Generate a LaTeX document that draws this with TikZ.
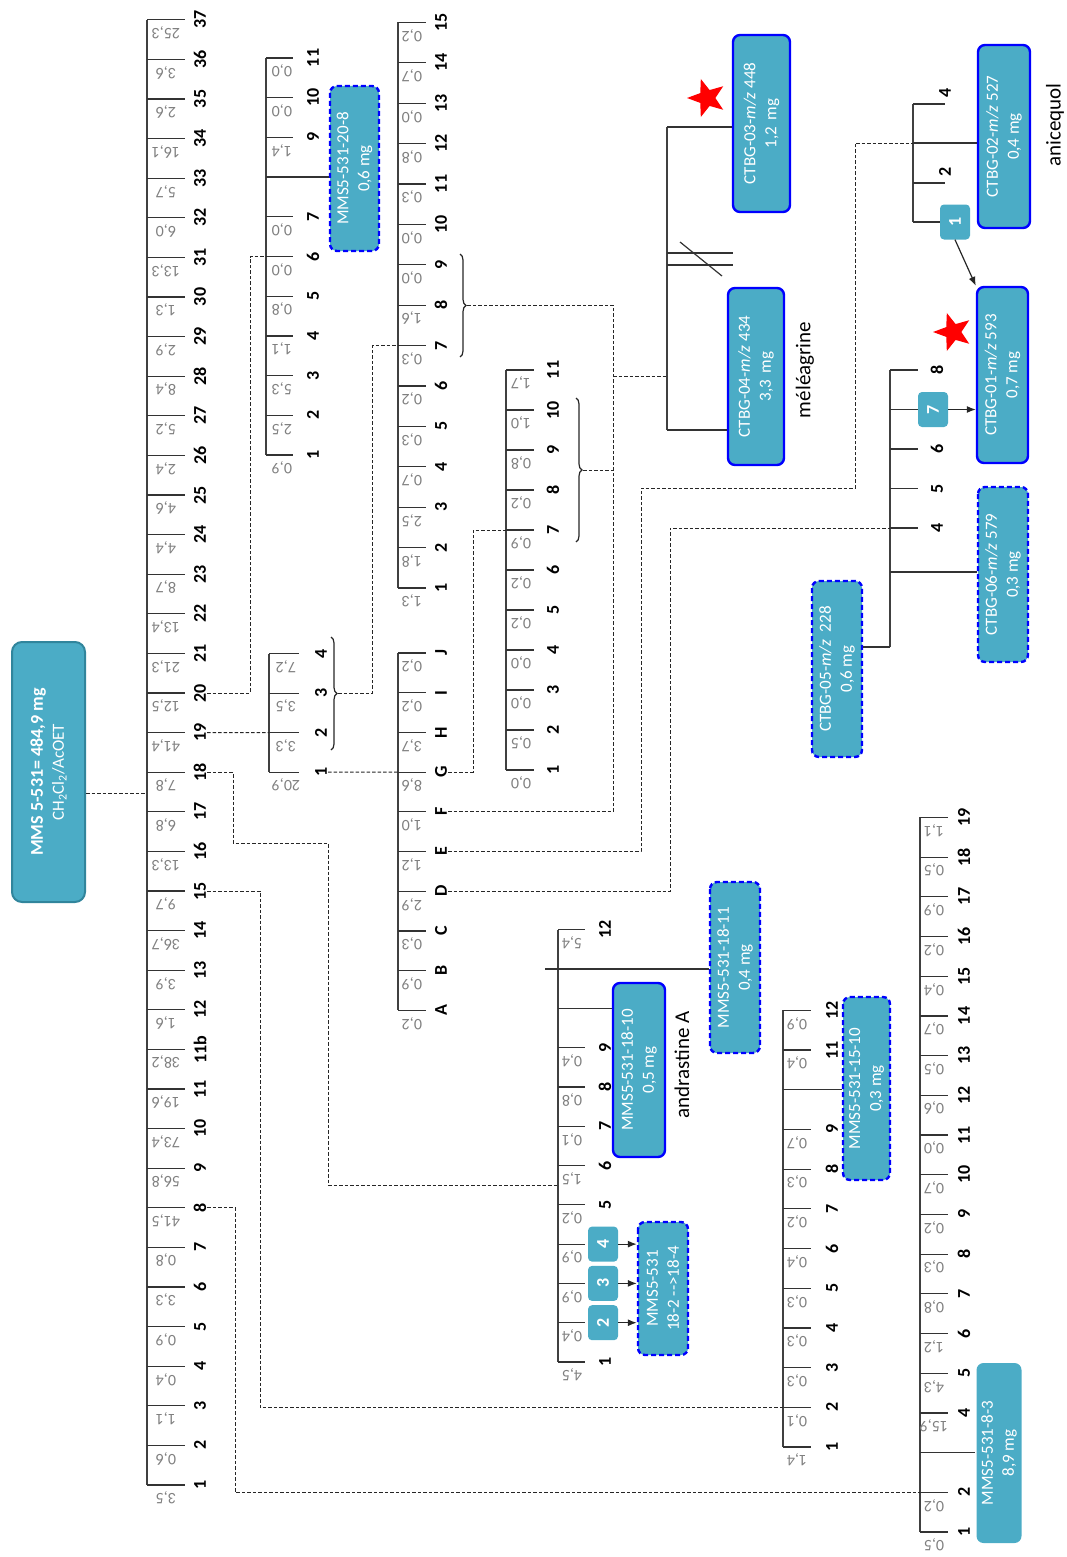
\documentclass[tikz,border=0pt]{standalone}
\usepackage{fontspec}
\setmainfont{Carlito}
\usetikzlibrary{arrows.meta,shapes.geometric,decorations.pathreplacing}

\definecolor{aqua}{HTML}{4BACC6}
\definecolor{aquadark}{HTML}{31859C}
\definecolor{valgray}{HTML}{808080}

\begin{document}
\begin{tikzpicture}[x=1pt, y=-1pt,
  axis/.style={draw=black!75, line width=1.5pt},
  tick/.style={draw=black!80, line width=1.2pt},
  link/.style={draw=black!85, line width=0.9pt, dash pattern=on 3.5pt off 2pt},
  num/.style={rotate=90, inner sep=1pt, font=\fontsize{18}{18}\selectfont\bfseries},
  val/.style={rotate=180, inner sep=0pt, text=valgray, font=\fontsize{16}{16}\selectfont},
  frac/.style={rotate=90, align=center, text=white, fill=aqua, draw=blue,
    line width=2.4pt, rounded corners=7pt, inner sep=1pt, font=\fontsize{17}{21}\selectfont},
  fracdash/.style={frac, dash pattern=on 5pt off 3pt},
  root/.style={frac, draw=aquadark, line width=2pt, rounded corners=10pt},
  plain/.style={frac, draw=none},
  pick/.style={rotate=90, rounded corners=4pt, fill=aqua, text=white, inner sep=0pt,
    minimum width=35pt, minimum height=30pt, font=\fontsize{18}{18}\selectfont\bfseries},
  bracket/.style={draw=black!85, line width=1.2pt, decorate, decoration={brace, amplitude=6pt}},
  tag/.style={rotate=90, font=\fontsize{21}{21}\selectfont},
  hit/.style={star, star points=5, star point ratio=2.4, fill=red, minimum size=40pt,
    inner sep=0pt, rotate=90},
  arrow/.style={-{Latex[length=9pt,width=7pt]}, draw=black!85, line width=1.2pt}
]
\useasboundingbox (0,0) rectangle (1067,1557);

% extrait brut
\node[root, minimum width=260pt, minimum height=73pt] (root) at (48.5,772)
  {\fontsize{18}{22}\selectfont\textbf{MMS 5-531= 484,9 mg}\\CH\textsubscript{2}Cl\textsubscript{2}/AcOET};
\coordinate (rootin) at (147,793);
\draw[link] (rootin -| root.south) -- (rootin);

% fractions principales
\draw[axis] (147,20) -- (147,1485);
\foreach \f/\v [count=\i from 0] in {1/{3,5},2/{0,6},3/{1,1},4/{0,4},5/{0,9},6/{3,3},7/{0,8},
  8/{41,5},9/{56,8},10/{73,4},11/{19,6},11b/{38,2},12/{1,6},13/{3,9},14/{36,7},15/{9,7},
  16/{13,3},17/{6,8},18/{7,8},19/{41,4},20/{12,5},21/{21,3},22/{13,4},23/{8,7},24/{4,4},
  25/{4,6},26/{2,4},27/{5,2},28/{8,4},29/{2,9},30/{1,3},31/{13,3},32/{6,0},33/{5,7},
  34/{16,1},35/{2,6},36/{3,6},37/{25,3}}{
  \draw[tick] (147,1485-\i*39.6) -- ++(38,0);
  \node[num] (m\f) at (200,1485-\i*39.6) {\f};
  \node[val] at (166,1498-\i*39.6) {\v};
}

% fraction 20
\draw[axis] (266,58) -- (266,455);
\foreach \k/\v in {1/{0,9},2/{2,5},3/{5,3},4/{1,1},5/{0,8},6/{0,0},7/{0,0},9/{1,4},10/{0,0},11/{0,0}}{
  \coordinate (f20a\k) at (266,494.7-\k*39.7);
  \draw[tick] (f20a\k) -- ++(27,0);
  \node[num] (f20-\k) at (313,494.7-\k*39.7) {\k};
  \node[val] at (282,507.7-\k*39.7) {\v};
}
\coordinate (f20a6) at (266,256.5);
\coordinate (f20a8) at (266,177.1);
\node[fracdash, minimum width=165pt, minimum height=49pt] (b208) at (354.5,168.5) {MMS5-531-20-8\\0,6 mg};
\draw[tick] (f20a8) -- (f20a8 -| b208.north);
\draw[link] (m20.south) -| (250,256.5) -- (f20a6);

% fraction 19
\draw[axis] (269,654.1) -- (269,772.1);
\foreach \k/\v in {1/{20,9},2/{3,3},3/{3,5},4/{7,2}}{
  \coordinate (f19a\k) at (269,811.6-\k*39.5);
  \draw[tick] (f19a\k) -- ++(30,0);
  \node[num] (f19-\k) at (321,811.6-\k*39.5) {\k};
  \node[val] at (286,824.6-\k*39.5) {\v};
}
\draw[link] (m19.south) -- (f19a2);
\draw[bracket] (331,637) -- (331,750);
\coordinate (bk19) at (338,693.1);

% regroupement 19-2 a 19-4
\draw[axis] (398,22.4) -- (398,588);
\foreach \k/\v in {1/{1,3},2/{1,8},3/{2,5},4/{0,7},5/{0,3},6/{0,2},7/{0,3},8/{1,6},9/{0,0},
  10/{0,0},11/{0,3},12/{0,8},13/{0,0},14/{0,7},15/{0,2}}{
  \coordinate (pa\k) at (398,628.4-\k*40.4);
  \draw[tick] (pa\k) -- ++(28,0);
  \node[num] (p\k) at (441,628.4-\k*40.4) {\k};
  \node[val] at (412,641.4-\k*40.4) {\v};
}
\draw[link] (bk19) -- ++(34,0) |- (pa7);
\draw[bracket] (460,254) -- (460,357);
\coordinate (bkp) at (467,305.2);

% fraction 19-1
\draw[axis] (398,653) -- (398,1010.3);
\foreach \l/\v [count=\k] in {A/{0,2},B/{0,9},C/{0,3},D/{2,9},E/{1,2},F/{1,0},G/{8,6},H/{3,7},I/{0,2},J/{0,2}}{
  \coordinate (qa\l) at (398,1050-\k*39.7);
  \draw[tick] (qa\l) -- ++(28,0);
  \node[num] (q\l) at (441,1050-\k*39.7) {\l};
  \node[val] at (412,1063-\k*39.7) {\v};
}
\draw[link] (f19-1.south) -- (qaG);

% fraction G
\draw[axis] (506,370) -- (506,770);
\foreach \k/\v in {1/{0,0},2/{0,5},3/{0,0},4/{0,0},5/{0,2},6/{0,2},7/{0,9},8/{0,2},9/{0,8},10/{1,0},11/{1,7}}{
  \coordinate (ga\k) at (506,810-\k*40);
  \draw[tick] (ga\k) -- ++(28,0);
  \node[num] (g\k) at (553,810-\k*40) {\k};
  \node[val] at (521,823-\k*40) {\v};
}
\draw[bracket] (576,398) -- (576,542);
\coordinate (bkg) at (583,470);
\draw[link] (qG.south) -| (473,530) -- (ga7);

% meleagrine
\coordinate (mltop) at (667,127);
\coordinate (mlin) at (667,376);
\coordinate (mlbot) at (667,430);
\node[frac, minimum width=177pt, minimum height=57pt] (b03) at (761.5,123.5) {CTBG-03-\textit{m/z} 448\\1,2\, mg};
\node[frac, minimum width=177pt, minimum height=56pt] (b04) at (756,376.5) {CTBG-04-\textit{m/z} 434\\3,3\, mg};
\draw[axis] (mltop) -- (mlbot);
\draw[tick] (mltop) -- (mltop -| b03.north);
\draw[tick] (mlbot) -- (mlbot -| b04.north);
\draw[tick] (667,253) -- (733,253);
\draw[tick] (667,265) -- (733,265);
\draw[tick] (680,242) -- (722,276);
\node[hit] (s03) at (707,98) {};
\node[tag] (mel) at (805,370) {méléagrine};
\coordinate (busg) at (613,470);
\draw[link] (qF.south) -| (613,305.2) -- (bkp);
\draw[link] (bkg) -- (busg);
\draw[link] (613,376) -- (mlin);

% anicequol
\coordinate (n4) at (913,104);
\coordinate (nB) at (913,143);
\coordinate (n2) at (913,183);
\coordinate (n1) at (913,222);
\node[frac, minimum width=183pt, minimum height=52pt] (b02) at (1004,136.5) {CTBG-02-\textit{m/z} 527\\0,4 mg};
\node[frac, minimum width=176pt, minimum height=51pt] (b01) at (1002.5,375) {CTBG-01-\textit{m/z} 593\\0,7 mg};
\draw[axis] (n4) -- (n1);
\draw[tick] (n4) -- ++(32,0) node[num, right=5pt] (n4l) {4};
\draw[tick] (n2) -- ++(32,0) node[num, right=5pt] (n2l) {2};
\draw[tick] (nB) -- (nB -| b02.north);
\node[pick] (k1) at (955,222) {1};
\draw[tick] (n1) -- (k1.north);
\draw[arrow] (k1.west) -- (b01.north east);
\node[hit] (s01) at (953,332) {};
\node[tag] (ani) at (1055,125) {anicequol};
\draw[link] (qE.south) -| (641,488) -| (855,143) -- (nB);

% CTBG-05 a 06
\coordinate (c8) at (890,370);
\coordinate (c7) at (890,409.5);
\coordinate (c6) at (890,449);
\coordinate (c5) at (890,488.5);
\coordinate (c4) at (890,528);
\coordinate (c06) at (890,572);
\coordinate (cbot) at (890,647);
\node[fracdash, minimum width=175pt, minimum height=50pt] (b06) at (1003,574.5) {CTBG-06-\textit{m/z} 579\\0,3 mg};
\node[fracdash, minimum width=176pt, minimum height=50pt] (b05) at (837,669) {CTBG-05-\textit{m/z}\ \ 228\\0,6 mg};
\draw[axis] (c8) -- (cbot);
\foreach \c in {8,6,5,4}{
  \draw[tick] (c\c) -- ++(28,0);
  \node[num] (c\c l) at (937,0 |- c\c) {\c};
}
\node[pick] (k7) at (933,409.5) {7};
\draw[tick] (c7) -- (k7.north);
\draw[arrow] (k7.south) -- (k7.south -| b01.north);
\draw[tick] (c06) -- (c06 -| b06.north);
\draw[tick] (cbot) -- (cbot -| b05.south);
\draw[link] (qD.south) -| (670,528) -- (c4);

% fraction 18
\draw[axis] (558,929.7) -- (558,1362);
\foreach \k/\v in {1/{4,5},5/{0,2},6/{1,5},7/{0,1},8/{0,8},9/{0,4},12/{5,4}}{
  \coordinate (f18a\k) at (558,1401.3-\k*39.3);
  \draw[tick] (f18a\k) -- ++(27,0);
  \node[num] (f18-\k) at (605,1401.3-\k*39.3) {\k};
  \node[val] at (572,1414.3-\k*39.3) {\v};
}
\node[fracdash, minimum width=133pt, minimum height=50pt] (b184) at (663,1288.5) {MMS5-531\\18-2 {-}{-}>18-4};
\foreach \k/\v in {2/{0,4},3/{0,9},4/{0,9}}{
  \coordinate (f18a\k) at (558,1401.3-\k*39.3);
  \draw[tick] (f18a\k) -- ++(27,0);
  \node[val] at (572,1414.3-\k*39.3) {\v};
  \node[pick] (k\k) at (603,1401.3-\k*39.3) {\k};
  \draw[arrow] (k\k.south) -- (k\k.south -| b184.north);
}
\node[frac, minimum width=174pt, minimum height=52pt] (b1810) at (639,1070) {MMS5-531-18-10\\0,5 mg};
\node[fracdash, minimum width=171pt, minimum height=50pt] (b1811) at (735,967.5) {MMS5-531-18-11\\0,4 mg};
\coordinate (f18a10) at (558,1008.3);
\coordinate (f18a11) at (545,969);
\draw[tick] (f18a10) -- (f18a10 -| b1810.north);
\draw[tick] (f18a11) -- (f18a11 -| b1811.north);
\node[tag] (andr) at (682,1065) {andrastine A};
\coordinate (f18in) at (558,1185);
\draw[link] (m18.south) -| (233,843) -| (328,1185) -- (f18in);

% fraction 15
\draw[axis] (783,1010.3) -- (783,1447);
\foreach \k/\v in {1/{1,4},2/{0,1},3/{0,3},4/{0,3},5/{0,3},6/{0,4},7/{0,2},8/{0,3},9/{0,7},11/{0,4},12/{0,9}}{
  \coordinate (f15a\k) at (783,1486.7-\k*39.7);
  \draw[tick] (f15a\k) -- ++(28,0);
  \node[num] (f15-\k) at (832,1486.7-\k*39.7) {\k};
  \node[val] at (797,1499.7-\k*39.7) {\v};
}
\node[fracdash, minimum width=183pt, minimum height=47pt] (b1510) at (866.5,1088.5) {MMS5-531-15-10\\0,3 mg};
\coordinate (f15a10) at (783,1089.7);
\draw[tick] (f15a10) -- (f15a10 -| b1510.north);
\draw[link] (m15.south) -| (260,1407.3) -- (f15a2);

% fraction 8
\draw[axis] (920,817.4) -- (920,1532);
\foreach \k/\v in {1/{0,5},2/{0,2},4/{15,9},5/{4,3},6/{1,2},7/{0,8},8/{0,3},9/{0,2},10/{0,7},
  11/{0,0},12/{0,6},13/{0,5},14/{0,7},15/{0,4},16/{0,2},17/{0,9},18/{0,5},19/{1,1}}{
  \coordinate (f8a\k) at (920,1571.7-\k*39.7);
  \draw[tick] (f8a\k) -- ++(28,0);
  \node[num] (f8-\k) at (964,1571.7-\k*39.7) {\k};
  \node[val] at (934,1584.7-\k*39.7) {\v};
}
\node[plain, minimum width=180pt, minimum height=45pt] (b83) at (999,1453) {MMS5-531-8-3\\8,9 mg};
\coordinate (f8a3) at (920,1452.6);
\draw[tick] (f8a3) -- (f8a3 -| b83.north);
\draw[link] (m8.south) -| (235,1492.3) -- (f8a2);
\end{tikzpicture}
\end{document}
